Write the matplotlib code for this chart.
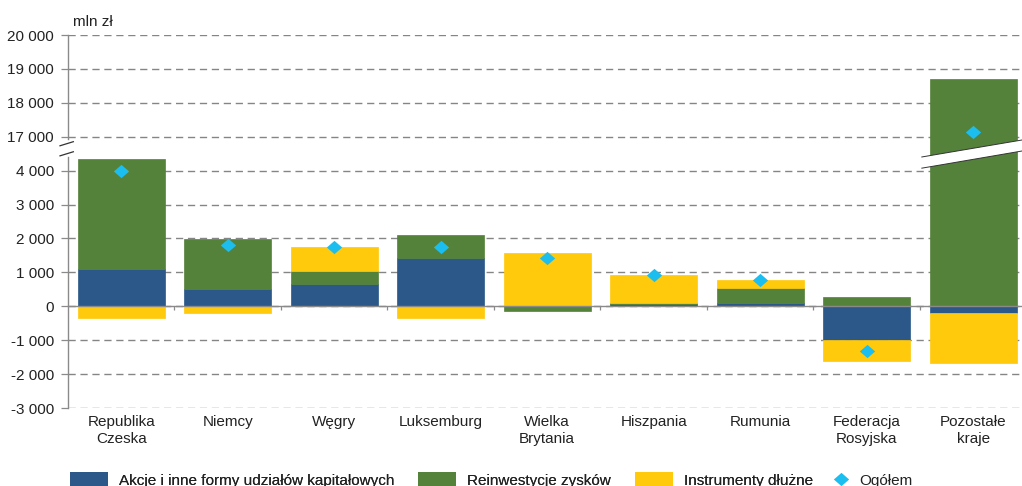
import numpy as np
import matplotlib
matplotlib.use("Agg")
import matplotlib.pyplot as plt
from matplotlib.patches import Patch, Polygon
from matplotlib.lines import Line2D
from matplotlib.path import Path

# ---- data (mln zł) ----
categories = ["Republika\nCzeska", "Niemcy", "Węgry", "Luksemburg", "Wielka\nBrytania",
              "Hiszpania", "Rumunia", "Federacja\nRosyjska", "Pozostałe\nkraje"]
akcje = [1100, 500, 655, 1430, 0, 80, 100, -1000, -190]
reinwestycje = [3230, 1480, 395, 670, -130, 20, 445, 265, 18700]
instrumenty = [-350, -190, 695, -335, 1560, 820, 220, -600, -1470]
ogolem = [3980, 1800, 1750, 1760, 1420, 920, 765, -1325, 17130]

series_names = ["Akcje i inne formy udziałów kapitałowych", "Reinwestycje zysków",
                "Instrumenty dłużne"]
total_name = "Ogółem"
unit_label = "mln zł"
yticks_values = [-3000, -2000, -1000, 0, 1000, 2000, 3000, 4000,
                 17000, 18000, 19000, 20000]

colors = ["#2b5889", "#55823b", "#ffc90c"]
diamond_color = "#1cbdef"
grid_color = "#858585"
axis_color = "#8a8a8a"
text_color = "#222222"

plt.rcParams["font.family"] = ["Liberation Sans", "DejaVu Sans"]
FS = 11

# ---- broken value axis: values above the break are shifted down by GAP ----
BREAK = 4600
GAP = 12000
_xp = np.array([-1e7, BREAK, BREAK + GAP, 1e7])
_fp = np.array([-1e7, BREAK, BREAK + 1e-3, 1e7 - GAP + 1e-3])


def forward(v):
    return np.interp(np.asarray(v, dtype=float), _xp, _fp)


def inverse(v):
    return np.interp(np.asarray(v, dtype=float), _fp, _xp)


fig = plt.figure(figsize=(10.22, 4.86), dpi=100)
W, H = 1022, 486
left_px, right_px, top_px, bottom_px = 68, 1022, 35, 408
ax = fig.add_axes([left_px / W, 1 - bottom_px / H,
                   (right_px - left_px) / W, (bottom_px - top_px) / H])
ax.set_yscale("function", functions=(forward, inverse))

x = np.arange(len(categories))
bar_w = 0.82
pos_base = np.zeros(len(categories))
neg_base = np.zeros(len(categories))
for vals, col, name in zip([akcje, reinwestycje, instrumenty], colors, series_names):
    vals = np.asarray(vals, dtype=float)
    bottom = np.where(vals >= 0, pos_base, neg_base)
    ax.bar(x, vals, bottom=bottom, width=bar_w, color=col, label=name,
           edgecolor=col, linewidth=0.5, zorder=2)
    pos_base += np.where(vals >= 0, vals, 0)
    neg_base += np.where(vals < 0, vals, 0)

diamond = Path([(-1, 0), (0, 0.87), (1, 0), (0, -0.87), (-1, 0)],
               [Path.MOVETO, Path.LINETO, Path.LINETO, Path.LINETO, Path.CLOSEPOLY])
ax.plot(x, ogolem, linestyle="none", marker=diamond, markersize=11,
        color=diamond_color, markeredgewidth=0, zorder=4, label=total_name)

ax.set_xlim(-0.5, 8.458)
ax.set_ylim(-3000, 20000)

# y axis ticks and dashed grid
ax.set_yticks(yticks_values)
ax.set_yticklabels([f"{v:,}".replace(",", " ") for v in yticks_values])
ax.tick_params(axis="y", direction="out", length=5, width=0.9, color=axis_color,
               pad=5, labelsize=FS, labelcolor=text_color)
ax.set_axisbelow(True)
ax.yaxis.grid(True, color=grid_color, linewidth=1.0, linestyle=(0, (5.2, 3.4)))
ax.xaxis.grid(False)

# category axis drawn along zero, with ticks between the groups
for s in ["top", "right", "left"]:
    ax.spines[s].set_visible(False)
ax.spines["bottom"].set_position(("data", 0))
ax.spines["bottom"].set_color(axis_color)
ax.spines["bottom"].set_linewidth(1.0)
ax.spines["bottom"].set_zorder(3)
ax.set_xticks(x[:-1] + 0.5)
ax.set_xticklabels([])
ax.tick_params(axis="x", direction="out", length=3, width=0.9, color=axis_color)

for xi, name in zip(x, categories):
    ax.annotate(name, xy=(xi, 0), xycoords=("data", "axes fraction"),
                xytext=(0, -5), textcoords="offset points", ha="center", va="top",
                fontsize=FS, color=text_color, linespacing=1.25, annotation_clip=False)

# left axis line with a break
ax.plot([0, 0], [0, 0.673], transform=ax.transAxes, color=axis_color, lw=1.0,
        clip_on=False, zorder=3)
ax.plot([0, 0], [0.721, 1], transform=ax.transAxes, color=axis_color, lw=1.0,
        clip_on=False, zorder=3)
for y0 in (0.676, 0.703):
    ax.plot([-0.0084, 0.0056], [y0, y0 + 0.011], transform=ax.transAxes,
            color="#333333", lw=0.9, clip_on=False, zorder=5)

# break band across the tallest bar
band = Polygon([(0.895, 0.643), (1.0, 0.689), (1.0, 0.7185), (0.895, 0.673)],
               closed=True, transform=ax.transAxes, facecolor="white",
               edgecolor="none", zorder=5, clip_on=False)
ax.add_patch(band)
for (ya, yb) in [(0.643, 0.689), (0.673, 0.7185)]:
    ax.plot([0.895, 1.0], [ya, yb], transform=ax.transAxes, color="#333333",
            lw=0.7, zorder=6, clip_on=False)

fig.text(73 / W, 1 - 22 / H, unit_label, fontsize=FS, color=text_color,
         ha="left", va="center")

# legend: component series, then the total marker
handles = [Patch(facecolor=c, edgecolor="none") for c in colors]
leg1 = fig.legend(handles, series_names, loc="center left",
                  bbox_to_anchor=(70 / W, 1 - 480 / H), ncol=3, frameon=False,
                  fontsize=FS, handlelength=2.48, handleheight=1.05,
                  handletextpad=0.72, columnspacing=1.57, borderpad=0,
                  borderaxespad=0, labelcolor=text_color)
fig.add_artist(leg1)
total_handle = Line2D([], [], linestyle="none", marker=diamond, markersize=11,
                      color=diamond_color, markeredgewidth=0)
fig.legend([total_handle], [total_name], loc="center left",
           bbox_to_anchor=(833 / W, 1 - 480 / H), frameon=False, fontsize=FS,
           handlelength=1.0, handleheight=1.05, handletextpad=0.72, borderpad=0,
           borderaxespad=0, labelcolor=text_color)

fig.savefig("out.png", dpi=100)
